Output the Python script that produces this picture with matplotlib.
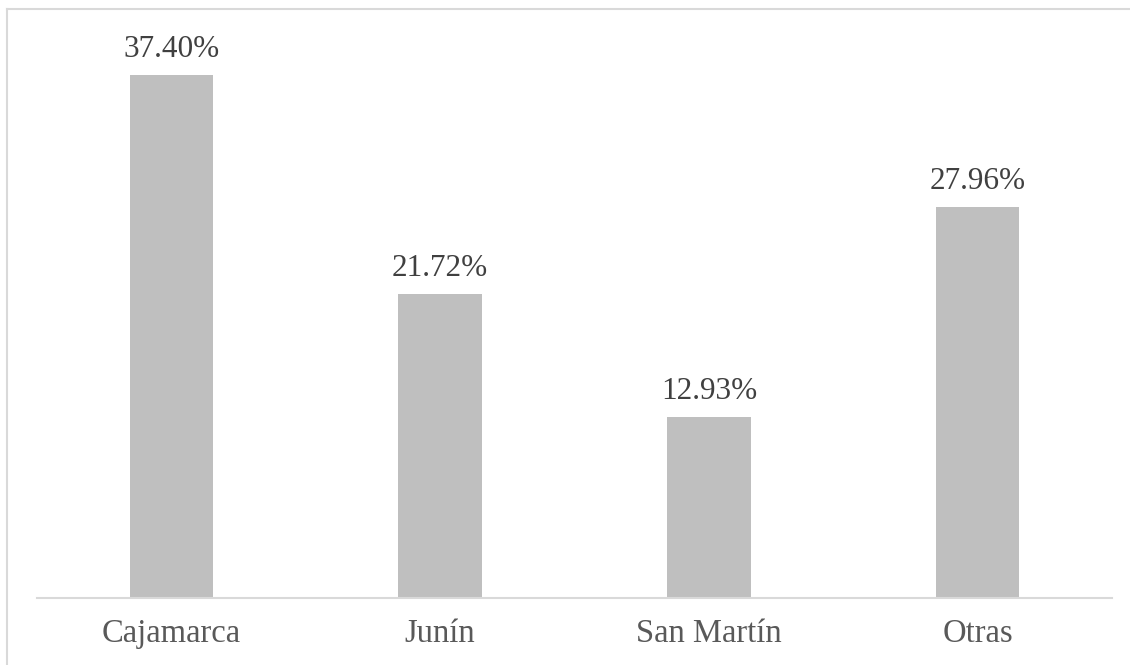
import matplotlib.pyplot as plt
from matplotlib.lines import Line2D

categories = ['Cajamarca', 'Junín', 'San Martín', 'Otras']
values = [37.40, 21.72, 12.93, 27.96]

plt.rcParams['font.family'] = ['Liberation Serif', 'DejaVu Serif']

W, H = 1130, 665
fig = plt.figure(figsize=(W / 100, H / 100), dpi=100)
ax = fig.add_axes([37 / W, (H - 598) / H, (1112 - 37) / W, (598 - 39) / H])

x = range(len(categories))
bars = ax.bar(x, values, width=0.31, color='#BFBFBF', zorder=2)
for b, v in zip(bars, values):
    ax.annotate(f'{v:.2f}%', (b.get_x() + b.get_width() / 2, v),
                xytext=(0, 8), textcoords='offset points',
                ha='center', va='bottom', fontsize=22.5, color='#404040')

ax.set_xlim(-0.5, 3.5)
ax.set_ylim(0, 40)
ax.set_xticks(list(x))
ax.set_xticklabels(categories, fontsize=23.5, color='#595959')
ax.tick_params(axis='x', length=0, pad=15)
ax.set_yticks([])
for s in ['top', 'right', 'left']:
    ax.spines[s].set_visible(False)
ax.spines['bottom'].set_color('#D9D9D9')
ax.spines['bottom'].set_linewidth(1.5)

# chart frame (only left and top edges visible in the crop)
fig.add_artist(Line2D([7 / W, 7 / W], [0, (H - 9) / H], color='#D9D9D9', lw=1.5))
fig.add_artist(Line2D([7 / W, 1.01], [(H - 9) / H, (H - 9) / H], color='#D9D9D9', lw=1.5))

fig.savefig('out.png', dpi=100)
